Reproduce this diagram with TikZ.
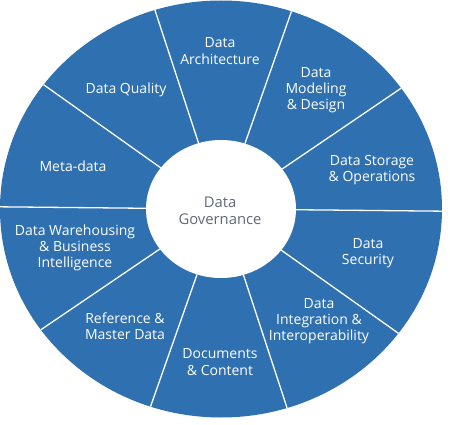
\documentclass[tikz,border=0pt]{standalone}
\usepackage{fontspec}
\setmainfont{Open Sans}
\definecolor{wheelblue}{RGB}{47,112,176}
\definecolor{govgray}{RGB}{95,105,118}
\begin{document}
\begin{tikzpicture}[x=1pt,y=1pt,
  lbl/.style={text=white,align=center,font=\fontsize{14}{16.2}\selectfont,inner sep=0pt},
  divider/.style={white,line width=1.3pt}]
\useasboundingbox (0,0) rectangle (450,424);
\fill[white] (0,0) rectangle (450,424);
\coordinate (c) at (221,215);
\fill[wheelblue] (c) ellipse [x radius=221, y radius=208.5];
\foreach \a in {0,36,...,324}{
  \draw[divider] ({221+75*cos(\a-0.6)},{215+69*sin(\a-0.6)}) -- ({221+221*cos(\a-0.6)},{215+208.5*sin(\a-0.6)});
}
\fill[white] (c) ellipse [x radius=75, y radius=69];
\node[lbl,text=govgray,font=\fontsize{14.8}{17}\selectfont] (gov) at (220,213) {Data\\Governance};
\node[lbl] (arch) at (220,373) {Data\\Architecture};
\node[lbl] (model) at (316,334) {Data\\Modeling\\\& Design};
\node[lbl] (stor) at (372,254) {Data Storage\\\& Operations};
\node[lbl] (sec) at (368,171) {Data\\Security};
\node[lbl] (integ) at (319,103) {Data\\Integration \&\\Interoperability};
\node[lbl] (docs) at (220,62) {Documents\\\& Content};
\node[lbl] (ref) at (125,98) {Reference \&\\Master Data};
\node[lbl] (dw) at (75,176) {Data Warehousing\\\& Business\\Intelligence};
\node[lbl] (meta) at (73,258) {Meta-data};
\node[lbl] (qual) at (126,334) {Data Quality};
\end{tikzpicture}
\end{document}
